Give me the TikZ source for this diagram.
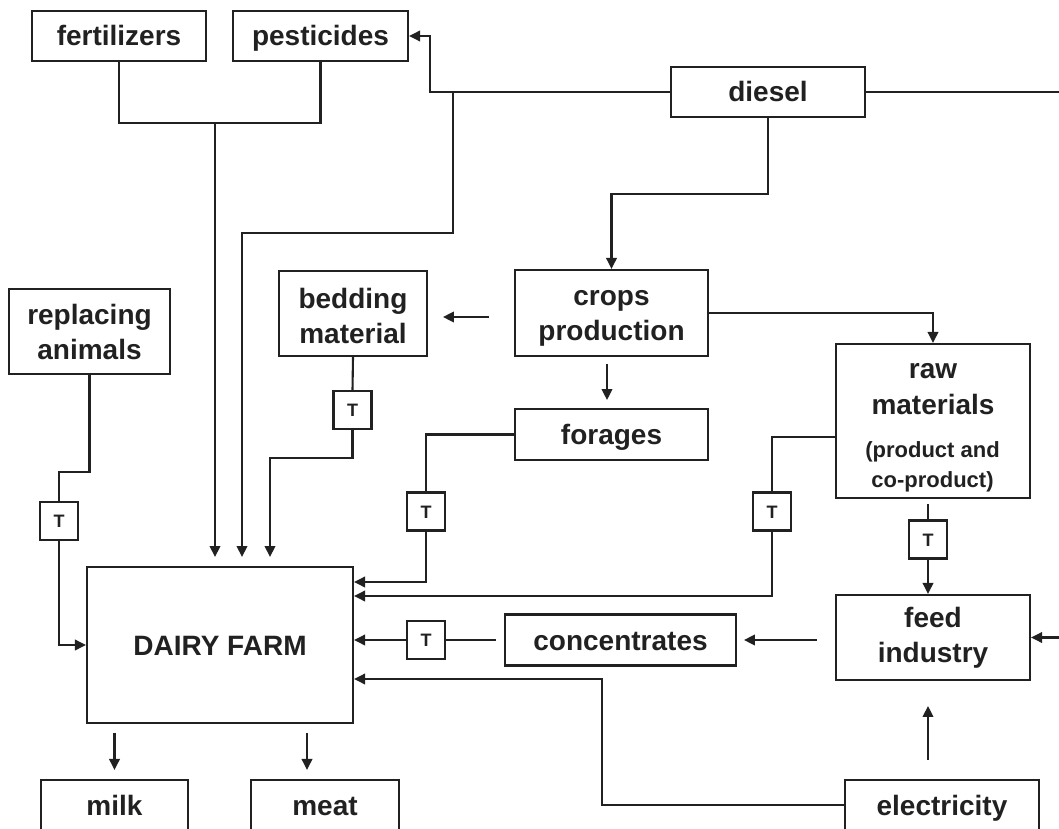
\documentclass[tikz,border=0pt]{standalone}
\usepackage{fontspec}
\setmainfont{Liberation Sans}
\usetikzlibrary{arrows.meta}
\begin{document}
\begin{tikzpicture}[x=1pt,y=-1pt,
  line width=2.1pt, color=black!87,
  box/.style={draw, inner sep=0pt, align=center, font=\fontsize{28}{35}\selectfont\bfseries},
  single/.style={box, text height=20pt, text depth=0pt},
  tbox/.style={draw, inner sep=0pt, minimum width=38pt, minimum height=38pt, text height=13pt, text depth=0pt, font=\fontsize{18}{18}\selectfont\bfseries},
  lbl/.style={inner sep=0pt, anchor=base, font=\fontsize{28}{35}\selectfont\bfseries},
  sublbl/.style={inner sep=0pt, anchor=base, font=\fontsize{22}{26}\selectfont\bfseries},
  arr/.style={-{Triangle[length=11pt,width=10.5pt]}},
]
\useasboundingbox (0,0) rectangle (1059,829);
\clip (0,0) rectangle (1059,829);

% boxes
\node[single, minimum width=174pt, minimum height=50pt] (fert) at (119,36) {fertilizers};
\node[single, minimum width=175pt, minimum height=50pt] (pest) at (320.5,36) {pesticides};
\node[single, minimum width=194pt, minimum height=50pt] (diesel) at (768,92) {diesel};
\node[box, minimum width=161pt, minimum height=85pt] (repl) at (89.5,331.5) {replacing\\animals};
\node[box, minimum width=148pt, minimum height=85pt] (bedding) at (353,313.5) {\rule{0pt}{25pt}bedding\\material};
\node[box, minimum width=193pt, minimum height=86pt] (crops) at (611.5,313) {\rule{0pt}{25pt}crops\\production};
\node[single, minimum width=193pt, minimum height=51pt] (forages) at (611.5,434.5) {forages};
\node[draw, inner sep=0pt, minimum width=194pt, minimum height=154pt] (raw) at (933,421) {};
\node[lbl] (rawa) at (933,378) {raw};
\node[lbl] (rawb) at (933,414) {materials};
\node[sublbl] (rawc) at (932.5,457) {(product and};
\node[sublbl] (rawd) at (932.5,487) {co-product)};
\node[single, minimum width=266pt, minimum height=156pt] (dairy) at (220,645) {DAIRY FARM};
\node[single, minimum width=231pt, minimum height=51pt] (conc) at (620.5,640) {concentrates};
\node[box, minimum width=194pt, minimum height=85pt] (feed) at (933,637.5) {feed\\industry};
\node[single, minimum width=147pt, minimum height=50pt] (milk) at (114.5,805) {milk};
\node[single, minimum width=148pt, minimum height=50pt] (meat) at (325,805) {meat};
\node[single, minimum width=194pt, minimum height=50pt] (elec) at (942,805) {electricity};

% transport boxes
\node[tbox] (T1) at (59,521) {T};
\node[tbox] (T2) at (352.5,410) {T};
\node[tbox] (T3) at (426,511.5) {T};
\node[tbox] (T4) at (772,511.5) {T};
\node[tbox] (T5) at (928,539.5) {T};
\node[tbox] (T6) at (426,640) {T};

% junction coordinates
\coordinate (fp) at (215,122);
\coordinate (in1) at (215,557);
\coordinate (pj) at (430,92);
\coordinate (dj) at (453,92);
\coordinate (dk) at (453,233);
\coordinate (in2) at (242,557);
\coordinate (in3) at (270,557);
\coordinate (rj) at (1075,92);
\coordinate (ej) at (602,679);

% fertilizers / pesticides
\draw (fert.south) -- ++(0,61) -| (pest.south);
\draw[arr] (fp) -- (in1);

% diesel
\draw[arr] (diesel.west) -- (pj) |- (pest.east);
\draw[arr] (dj) -- (dk) -| (in2);
\draw[arr] (diesel.east) -- (rj) |- (feed.east);
\draw[arr] (diesel.south) -- ++(0,76) -| (crops.north);

% crops production
\draw[arr] ([xshift=-25pt,yshift=-4pt]crops.west) -- ++(-46,0);
\draw[arr] (crops.east) -| (raw.north);
\draw[arr] ([xshift=-4.5pt,yshift=-7pt]crops.south) -- ++(0,36);

% replacing animals
\draw (repl.south) -- ++(0,97) -| (T1.north);
\draw[arr] (T1.south) |- (dairy.west);

% bedding material
\draw (bedding.south) -- (T2.north);
\draw[arr] (T2.south) -- ++(0,28) -| (in3);

% forages
\draw (forages.west) -| (T3.north);
\draw[arr] (T3.south) |- ([yshift=63pt]dairy.east);

% raw materials
\draw ([yshift=-16pt]raw.west) -| (T4.north);
\draw[arr] (T4.south) |- ([yshift=49pt]dairy.east);
\draw ([xshift=-5pt,yshift=-5pt]raw.south) -- (T5.north);
\draw[arr] (T5.south) -- (T5.south |- feed.north);

% feed industry / concentrates
\draw[arr] ([xshift=-18pt,yshift=-2.5pt]feed.west) -- ++(-73,0);
\draw ([xshift=-8pt]conc.west) -- (T6.east);
\draw[arr] (T6.west) -- (T6.west -| dairy.east);

% electricity
\draw[arr] (elec.west) -| (ej) -- (ej -| dairy.east);
\draw[arr] ([xshift=-14pt,yshift=19pt]elec.north) -- ++(0,-54);

% outputs
\draw[arr] ([yshift=46pt]milk.north) -- ([yshift=9pt]milk.north);
\draw[arr] ([xshift=-18pt,yshift=46pt]meat.north) -- ([xshift=-18pt,yshift=9pt]meat.north);
\end{tikzpicture}
\end{document}
